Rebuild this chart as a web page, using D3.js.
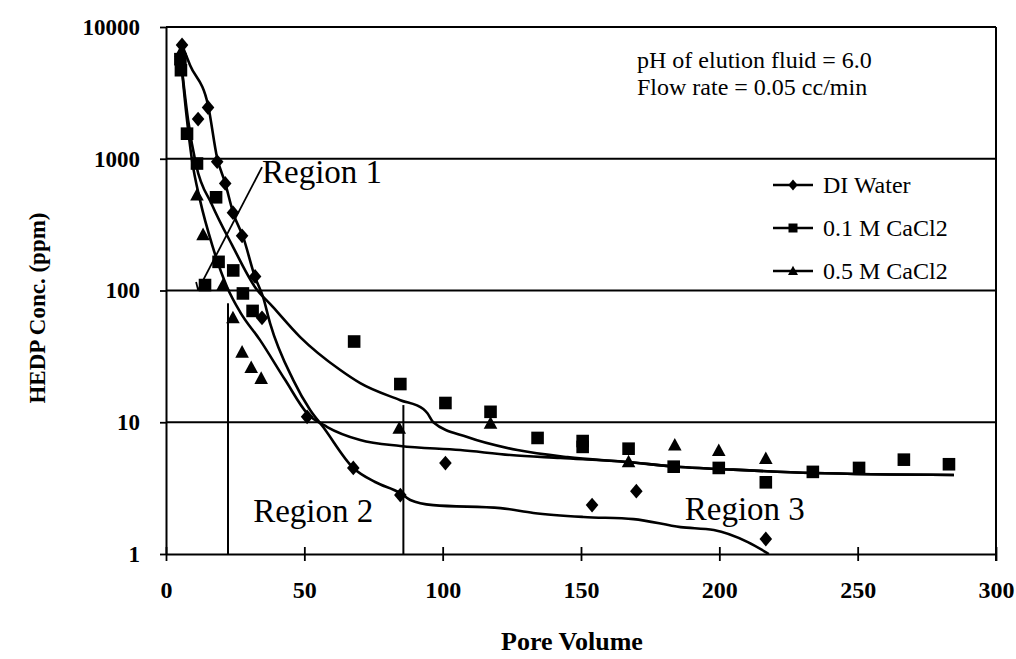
<!DOCTYPE html>
<html><head><meta charset="utf-8">
<script src="https://cdn.jsdelivr.net/npm/d3@7"></script>
<style>body{margin:0;background:#fff}svg{display:block}</style>
</head><body>
<svg id="c" width="1016" height="659"></svg>
<script>
// ---- data ----
const xTicks = [0,50,100,150,200,250,300];
const yTicks = [1,10,100,1000,10000];
const seriesNames = ["DI Water","0.1 M CaCl2","0.5 M CaCl2"];

const diX = [5.8,11.6,15.2,18.5,21.4,24.2,27.5,32.2,34.7,51,67.7,84.7,101,154,170,216.8];
const diY = [7300,2000,2450,950,650,390,260,128,62,11,4.5,2.8,4.9,2.35,3.0,1.3];

const ca01X = [5.2,5.4,7.6,11.2,14.1,18.1,19,24.3,27.8,31.3,68,84.7,101,117.3,134.3,150.6,150.6,167.2,183.5,199.8,216.8,233.8,250.5,266.7,283];
const ca01Y = [5700,4700,1550,920,110,510,165,142,95,70,41,19.5,14,12,7.6,7.2,6.5,6.3,4.6,4.5,3.5,4.2,4.5,5.2,4.8];

const ca05X = [5.5,11.2,13.4,20.6,24.2,27.5,30.8,34.4,84.3,117.3,167.2,183.9,199.8,216.8];
const ca05Y = [6500,530,265,110,62,34,26,21.5,9.0,9.8,5.0,6.7,6.1,5.3];

// fitted curves (traced)
const diFitX = [5.8,8.7,15.2,18.5,21.4,24.3,27.9,32.2,35.1,37.6,46.0,52.1,56.8,67.7,75.6,84.7,88.3,96.6,120.9,132.8,150.9,169.0,186.0,198.0,210.3,217.9];
const diFitY = [7300,5130,2550,1010,653,387,254,126,89,56.6,20.9,12.4,9.2,4.5,3.52,2.9,2.57,2.35,2.23,2.05,1.91,1.84,1.60,1.52,1.23,1.0];
const ca01FitX = [5.4,8.0,10.9,16.7,23.9,32.2,38.7,48.5,63.0,70.2,84.7,93.0,94.5,96.6,108.9,127.0,145.1,166.8,186.0,199.8,233.8,284.8];
const ca01FitY = [5600,1960,894,444,221,106,74.8,44.3,24.9,19.8,14.7,12.6,11.7,10.0,7.72,6.15,5.44,4.99,4.57,4.42,4.12,3.98];
const ca05FitX = [5.1,7.2,9.4,12.3,16.7,22.1,26.8,34.0,43.1,51.0,58.3,70.2,84.7,106.4,124.5,142.6,166.8,186.0,199.8,233.8,284.8];
const ca05FitY = [6670,2340,976,485,221,106,68.6,42,20.9,11.7,9.2,7.33,6.6,6.15,5.64,5.35,4.99,4.57,4.42,4.12,3.98];

// region boundaries & labels
const regionLineX = [22.4, 85.8];
const regionLineTop = [80, 13.5];
const regionLabels = ["Region 1","Region 2","Region 3"];
const regionLabelX = [34.7, 31.5, 187.5];
const regionLabelY = [650, 1.75, 1.81];
const pointerX = [34.7, 11.6];
const pointerY = [864, 101];
const noteLines = ["pH of elution fluid = 6.0","Flow rate = 0.05 cc/min"];

// ---- chart ----
const svg = d3.select("#c");
const L=166, R=996, T=27, B=554;
const x = d3.scaleLinear().domain([0,300]).range([L,R]);
const y = d3.scaleLog().domain([1,10000]).range([B,T]);
const serif = "'Liberation Serif','Times New Roman',serif";

// gridlines
svg.append("g").selectAll("line").data(yTicks.filter(d=>d>1)).join("line")
  .attr("x1",L).attr("x2",R).attr("y1",d=>y(d)).attr("y2",d=>y(d))
  .attr("stroke","#000").attr("stroke-width",2);
// right border
svg.append("line").attr("x1",R).attr("x2",R).attr("y1",T).attr("y2",B+7)
  .attr("stroke","#000").attr("stroke-width",2);

// axes
const xAxis = d3.axisBottom(x).tickValues(xTicks).tickSizeInner(7).tickSizeOuter(0).tickPadding(20);
const gx = svg.append("g").attr("transform",`translate(0,${B})`).call(xAxis);
gx.select(".domain").attr("stroke-width",2);
gx.selectAll(".tick line").attr("y1",-7).attr("stroke-width",1.8);
gx.selectAll(".tick text").attr("font-family",serif).attr("font-weight","bold").attr("font-size",24).attr("fill","#000");

const yAxis = d3.axisLeft(y).tickValues(yTicks).tickFormat(d3.format("d")).tickSizeInner(6).tickSizeOuter(0).tickPadding(20);
const gy = svg.append("g").attr("transform",`translate(${L},0)`).call(yAxis);
gy.select(".domain").attr("stroke-width",2);
gy.selectAll(".tick line").attr("stroke-width",1.8);
gy.selectAll(".tick text").attr("font-family",serif).attr("font-weight","bold").attr("font-size",23).attr("fill","#000");

// axis titles
svg.append("text").attr("x",572).attr("y",650).attr("text-anchor","middle")
  .attr("font-family",serif).attr("font-weight","bold").attr("font-size",26).text("Pore Volume");
svg.append("text").attr("transform","translate(45,308) rotate(-90)").attr("text-anchor","middle")
  .attr("font-family",serif).attr("font-weight","bold").attr("font-size",23).text("HEDP Conc. (ppm)");

// region lines
svg.append("g").selectAll("line").data(regionLineX).join("line")
  .attr("x1",d=>x(d)).attr("x2",d=>x(d)).attr("y1",(d,i)=>y(regionLineTop[i])).attr("y2",B)
  .attr("stroke","#000").attr("stroke-width",2);
svg.append("line").attr("x1",x(pointerX[0])).attr("y1",y(pointerY[0])).attr("x2",x(pointerX[1])).attr("y2",y(pointerY[1]))
  .attr("stroke","#000").attr("stroke-width",1.8);
svg.append("line").attr("x1",x(pointerX[1])-2).attr("y1",y(pointerY[1])-8).attr("x2",x(pointerX[1])).attr("y2",y(pointerY[1]))
  .attr("stroke","#000").attr("stroke-width",1.8);

// fitted curves
const line = d3.line().x(d=>x(d[0])).y(d=>y(d[1])).curve(d3.curveMonotoneX);
const fits = [[diFitX,diFitY],[ca01FitX,ca01FitY],[ca05FitX,ca05FitY]];
svg.append("g").selectAll("path").data(fits).join("path")
  .attr("d",f=>line(f[0].map((v,i)=>[v,f[1][i]])))
  .attr("fill","none").attr("stroke","#000").attr("stroke-width",2.6);

// markers
function diamond(s){ return `M0,${-s}L${s*0.85},0L0,${s}L${-s*0.85},0Z`; }
function square(s){ return `M${-s},${-s}H${s}V${s}H${-s}Z`; }
function tri(s){ return `M0,${-s*1.05}L${s},${s*0.8}L${-s},${s*0.8}Z`; }
const mk = [diamond, square, tri];
const msz = [7.4, 6.3, 6.8];
const pts = [[diX,diY],[ca01X,ca01Y],[ca05X,ca05Y]];
pts.forEach((p,k)=>{
  svg.append("g").selectAll("path").data(p[0].map((v,i)=>[v,p[1][i]])).join("path")
    .attr("transform",d=>`translate(${x(d[0])},${y(d[1])})`)
    .attr("d",mk[k](msz[k])).attr("fill","#000");
});

// region labels
svg.append("g").selectAll("text").data(regionLabels).join("text")
  .attr("x",(d,i)=>x(regionLabelX[i])).attr("y",(d,i)=>y(regionLabelY[i]))
  .attr("font-family",serif).attr("font-size",33).text(d=>d);

// note
svg.append("g").selectAll("text").data(noteLines).join("text")
  .attr("x",637).attr("y",(d,i)=>68+i*27)
  .attr("font-family",serif).attr("font-size",24).text(d=>d);

// legend
const lg = svg.append("g");
seriesNames.forEach((n,i)=>{
  const cy = 185 + i*43;
  lg.append("line").attr("x1",773).attr("x2",813).attr("y1",cy).attr("y2",cy).attr("stroke","#000").attr("stroke-width",2.4);
  lg.append("path").attr("transform",`translate(793,${cy})`).attr("d",mk[i]([5.5,4.5,5][i])).attr("fill","#000");
  lg.append("text").attr("x",823).attr("y",cy+8).attr("font-family",serif).attr("font-size",24).text(n);
});
</script>
</body></html>
